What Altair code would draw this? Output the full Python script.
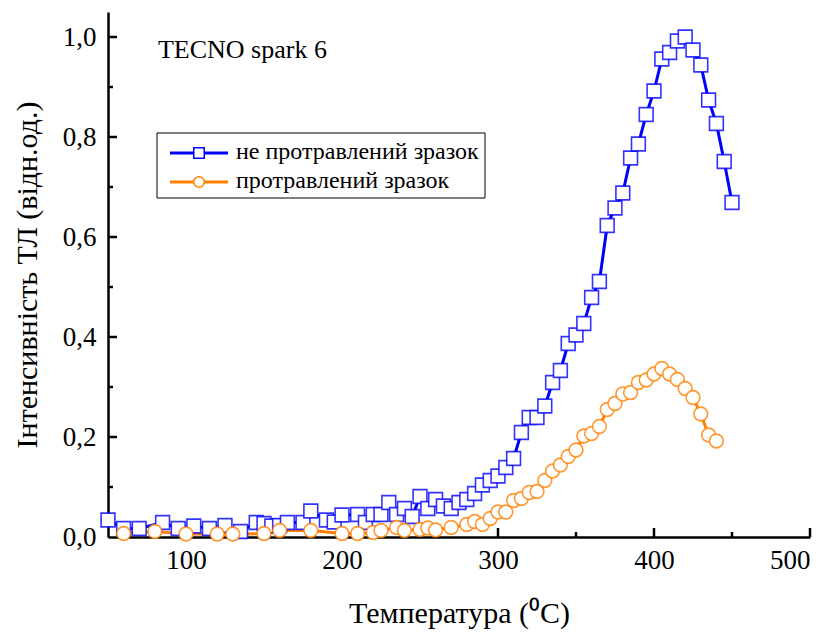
import altair as alt
import pandas as pd

# ---- data ----
series_names = ["не протравлений зразок", "протравлений зразок"]

blue_t = [50, 60, 70, 85, 95, 105, 115, 125, 135, 145, 150, 155, 160, 165, 175, 180,
          190, 195, 200, 210, 215, 220, 225, 230, 235, 240, 245, 250, 255, 260, 265,
          270, 275, 280, 285, 290, 295, 300, 305, 310, 315, 320, 325, 330, 335, 340,
          345, 350, 355, 360, 365, 370, 375, 380, 385, 390, 395, 400, 405, 410, 415,
          420, 425, 430, 435, 440, 445, 450]
blue_v = [0.034, 0.017, 0.017, 0.029, 0.017, 0.022, 0.017, 0.023, 0.011, 0.029, 0.027,
          0.022, 0.023, 0.029, 0.029, 0.052, 0.034, 0.030, 0.044, 0.045, 0.029, 0.045,
          0.045, 0.069, 0.045, 0.057, 0.041, 0.081, 0.057, 0.075, 0.062, 0.057, 0.069,
          0.075, 0.087, 0.104, 0.113, 0.122, 0.139, 0.157, 0.209, 0.239, 0.239, 0.262,
          0.309, 0.333, 0.387, 0.404, 0.427, 0.479, 0.511, 0.623, 0.658, 0.688, 0.758,
          0.786, 0.845, 0.892, 0.956, 0.969, 0.992, 1.000, 0.974, 0.944, 0.874, 0.827,
          0.751, 0.669]

orange_t = [60, 80, 100, 120, 130, 150, 160, 180, 200, 210, 220, 225, 235, 240, 250,
            255, 260, 270, 280, 285, 290, 295, 300, 305, 310, 315, 320, 325, 330, 335,
            340, 345, 350, 355, 360, 365, 370, 375, 380, 385, 390, 395, 400, 405, 410,
            415, 420, 425, 430, 435, 440]
orange_v = [0.007, 0.011, 0.006, 0.006, 0.006, 0.007, 0.013, 0.013, 0.007, 0.007, 0.009,
            0.013, 0.019, 0.013, 0.015, 0.018, 0.014, 0.019, 0.025, 0.031, 0.025, 0.037,
            0.050, 0.050, 0.073, 0.077, 0.089, 0.091, 0.113, 0.132, 0.144, 0.161, 0.174,
            0.202, 0.207, 0.221, 0.255, 0.267, 0.286, 0.289, 0.309, 0.314, 0.326, 0.337,
            0.326, 0.315, 0.297, 0.279, 0.246, 0.204, 0.192]

x_label_values = [100, 200, 300, 400, 500]
x_minor_values = [150, 250, 350, 450]
y_label_values = [0.0, 0.2, 0.4, 0.6, 0.8, 1.0]
y_major_values = [0.2, 0.4, 0.6, 0.8, 1.0]
y_minor_values = [0.1, 0.3, 0.5, 0.7, 0.9]

annotation_text = "TECNO spark 6"
annotation_t = [82]
annotation_v = [0.974]

x_title = "Температура (⁰C)"
y_title = "Інтенсивність ТЛ (відн.од.)"

colors = ["#0000ff", "#ff8000"]
shapes = ["square", "circle"]

# ---- tables ----
df = pd.concat([
    pd.DataFrame({"T": blue_t, "V": blue_v, "series": series_names[0]}),
    pd.DataFrame({"T": orange_t, "V": orange_v, "series": series_names[1]}),
], ignore_index=True)

FONT = "Liberation Serif"
W, H = 702, 525

xscale = alt.Scale(domain=[50, 500], nice=False, zero=False)
yscale = alt.Scale(domain=[0, 1.05], nice=False, zero=True)
cscale = alt.Scale(domain=series_names, range=colors)
sscale = alt.Scale(domain=series_names, range=shapes)

x_axis = alt.Axis(values=x_label_values, tickSize=0, labelFontSize=27, labelFont=FONT,
                  labelColor="black", labelPadding=10, domainColor="black", domainWidth=2.5,
                  grid=False, title=x_title, titleFont=FONT, titleFontSize=30,
                  titleFontWeight="normal", titleColor="black", titlePadding=25,
                  orient="bottom")
y_axis = alt.Axis(values=y_label_values, tickSize=0, labelFontSize=27, labelFont=FONT,
                  labelColor="black", labelPadding=12, domainColor="black", domainWidth=2.5,
                  grid=False, labelExpr="replace(format(datum.value, '.1f'), '.', ',')",
                  title=y_title, titleFont=FONT, titleFontSize=30, titleFontWeight="normal",
                  titleColor="black", titlePadding=20, orient="left")

X = lambda f="T": alt.X(f"{f}:Q", scale=xscale, axis=x_axis)
Y = lambda f="V": alt.Y(f"{f}:Q", scale=yscale, axis=y_axis)

base = alt.Chart(df)

lines = base.mark_line(strokeWidth=3).encode(
    x=X(), y=Y(),
    color=alt.Color("series:N", scale=cscale, legend=None),
    order="T:Q",
)

points = base.mark_point(fill="white", fillOpacity=1, size=190, strokeWidth=1.6,
                         strokeOpacity=0.8, opacity=1).encode(
    x=X(), y=Y(),
    stroke=alt.Stroke("series:N", scale=cscale, legend=None),
    shape=alt.Shape("series:N", scale=sscale, legend=None),
)

# inward ticks
xmaj = alt.Chart(pd.DataFrame({"T": x_label_values})).mark_rule(color="black", strokeWidth=2.5).encode(
    x=X(), y=alt.value(H), y2=alt.value(H - 9))
xmin = alt.Chart(pd.DataFrame({"T": x_minor_values})).mark_rule(color="black", strokeWidth=2.5).encode(
    x=X(), y=alt.value(H), y2=alt.value(H - 5))
ymaj = alt.Chart(pd.DataFrame({"V": y_major_values})).mark_rule(color="black", strokeWidth=2.5).encode(
    y=Y(), x=alt.value(0), x2=alt.value(9))
ymin = alt.Chart(pd.DataFrame({"V": y_minor_values})).mark_rule(color="black", strokeWidth=2.5).encode(
    y=Y(), x=alt.value(0), x2=alt.value(5))

annot = alt.Chart(pd.DataFrame({"T": annotation_t, "V": annotation_v, "txt": [annotation_text]})).mark_text(
    align="left", baseline="middle", font=FONT, fontSize=26, color="black").encode(
    x=X(), y=Y(), text="txt:N")

# legend box (drawn manually to show line + marker symbols)
leg_box = alt.Chart(pd.DataFrame({"a": [0]})).mark_rect(fill="white", stroke="black", strokeWidth=1).encode(
    x=alt.value(49), x2=alt.value(377), y=alt.value(121), y2=alt.value(186))

leg_layers = []
for i, (name, ypix) in enumerate(zip(series_names, [141, 170])):
    d = pd.DataFrame({"series": [name]})
    leg_layers.append(alt.Chart(d).mark_rule(strokeWidth=3, color=colors[i]).encode(
        y=alt.value(ypix), x=alt.value(62), x2=alt.value(120)))
    leg_layers.append(alt.Chart(d).mark_point(fill="white", fillOpacity=1, size=110, strokeWidth=1.5,
                                              opacity=1, stroke=colors[i], shape=shapes[i]).encode(
        y=alt.value(ypix), x=alt.value(91)))
    leg_layers.append(alt.Chart(d).mark_text(align="left", baseline="middle", font=FONT, fontSize=24,
                                             color="black", dy=-1).encode(
        y=alt.value(ypix), x=alt.value(128), text="series:N"))

chart = alt.layer(
    xmaj, xmin, ymaj, ymin, lines, points, annot, leg_box, *leg_layers
).properties(
    width=W, height=H,
    autosize=alt.AutoSizeParams(type="none"),
    padding={"left": 108, "top": 12, "right": 23, "bottom": 97},
    background="white",
).configure(font=FONT).configure_view(stroke=None)

chart.save("out.html", embed_options={"renderer": "svg", "actions": False})
